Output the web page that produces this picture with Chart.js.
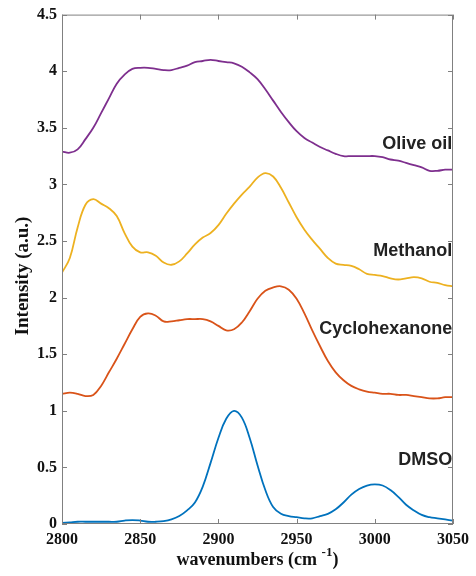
<!DOCTYPE html>
<html>
<head>
<meta charset="utf-8">
<script src="https://cdn.jsdelivr.net/npm/chart.js@4"></script>
<style>
  html, body { margin: 0; padding: 0; background: #fff; }
  #wrap { width: 476px; height: 576px; }
</style>
</head>
<body>
<div id="wrap"><canvas id="spectra"></canvas></div>
<script>
const wavenumbers = [2800, 2805, 2810, 2815, 2820, 2825, 2830, 2835, 2840, 2845, 2850, 2855, 2860, 2865, 2870, 2875, 2880, 2885, 2890, 2895, 2900, 2905, 2910, 2915, 2920, 2925, 2930, 2935, 2940, 2945, 2950, 2955, 2960, 2965, 2970, 2975, 2980, 2985, 2990, 2995, 3000, 3005, 3010, 3015, 3020, 3025, 3030, 3035, 3040, 3045, 3050];

const oliveOil = [3.29, 3.28, 3.31, 3.40, 3.50, 3.63, 3.76, 3.89, 3.97, 4.02, 4.03, 4.03, 4.02, 4.01, 4.01, 4.03, 4.05, 4.08, 4.09, 4.10, 4.09, 4.08, 4.07, 4.04, 3.99, 3.93, 3.84, 3.74, 3.64, 3.55, 3.47, 3.41, 3.37, 3.33, 3.30, 3.27, 3.25, 3.25, 3.25, 3.25, 3.25, 3.24, 3.22, 3.21, 3.19, 3.17, 3.15, 3.12, 3.12, 3.13, 3.13];

const methanol = [2.22, 2.35, 2.62, 2.82, 2.87, 2.83, 2.79, 2.72, 2.57, 2.45, 2.40, 2.40, 2.37, 2.31, 2.29, 2.32, 2.39, 2.47, 2.53, 2.57, 2.64, 2.74, 2.83, 2.91, 2.98, 3.06, 3.10, 3.07, 2.97, 2.84, 2.71, 2.60, 2.51, 2.43, 2.35, 2.30, 2.29, 2.28, 2.25, 2.21, 2.20, 2.19, 2.17, 2.16, 2.17, 2.18, 2.17, 2.14, 2.13, 2.11, 2.10];

const cyclohexanone = [1.15, 1.16, 1.15, 1.13, 1.14, 1.22, 1.34, 1.46, 1.59, 1.72, 1.83, 1.86, 1.84, 1.79, 1.79, 1.80, 1.81, 1.81, 1.81, 1.79, 1.75, 1.71, 1.72, 1.78, 1.88, 1.99, 2.06, 2.09, 2.10, 2.07, 1.99, 1.86, 1.71, 1.57, 1.44, 1.34, 1.27, 1.22, 1.19, 1.17, 1.16, 1.15, 1.15, 1.14, 1.14, 1.13, 1.12, 1.11, 1.11, 1.12, 1.12];

const dmso = [0.01, 0.015, 0.02, 0.02, 0.02, 0.02, 0.02, 0.02, 0.03, 0.035, 0.03, 0.02, 0.02, 0.025, 0.04, 0.07, 0.12, 0.19, 0.33, 0.54, 0.76, 0.93, 1.00, 0.94, 0.76, 0.52, 0.30, 0.15, 0.09, 0.07, 0.06, 0.05, 0.05, 0.07, 0.09, 0.13, 0.19, 0.26, 0.31, 0.34, 0.35, 0.34, 0.30, 0.24, 0.17, 0.12, 0.08, 0.06, 0.05, 0.04, 0.03];

// curve names and where their text sits (data units)
const seriesNames = ['DMSO', 'Cyclohexanone', 'Methanol', 'Olive oil'];
const labelY = [0.565, 1.72, 2.41, 3.36];

const xTicks = [2800, 2850, 2900, 2950, 3000, 3050];
const yTicks = [0, 0.5, 1, 1.5, 2, 2.5, 3, 3.5, 4, 4.5];

const colors = ['#0072BD', '#D95319', '#EDB120', '#7E2F8E'];
const allSeries = [dmso, cyclohexanone, methanol, oliveOil];

function toPoints(ys) {
    return wavenumbers.map((x, i) => ({ x: x, y: ys[i] }));
}

// frame + inward ticks + axis titles + curve labels
const framePlugin = {
    id: 'frame',
    afterDraw(chart) {
        const ctx = chart.ctx;
        const a = chart.chartArea;
        const xs = chart.scales.x, ys = chart.scales.y;
        ctx.save();
        ctx.strokeStyle = '#808080';
        ctx.lineWidth = 1;
        ctx.strokeRect(a.left + 0.5, a.top + 0.5, a.right - a.left - 1, a.bottom - a.top - 1);
        ctx.beginPath();
        xTicks.forEach(v => {
            const px = Math.round(xs.getPixelForValue(v)) + 0.5;
            ctx.moveTo(px, a.bottom); ctx.lineTo(px, a.bottom - 5);
            ctx.moveTo(px, a.top); ctx.lineTo(px, a.top + 5);
        });
        yTicks.forEach(v => {
            const py = Math.round(ys.getPixelForValue(v)) + 0.5;
            ctx.moveTo(a.left, py); ctx.lineTo(a.left + 5, py);
            ctx.moveTo(a.right, py); ctx.lineTo(a.right - 5, py);
        });
        ctx.stroke();

        // curve names
        ctx.fillStyle = '#222';
        ctx.font = 'bold 18px "Liberation Sans", Arial, sans-serif';
        ctx.textAlign = 'right';
        ctx.textBaseline = 'middle';
        seriesNames.forEach((name, i) => {
            ctx.fillText(name, xs.getPixelForValue(3049.5), ys.getPixelForValue(labelY[i]));
        });

        // x title with superscript
        ctx.fillStyle = '#111';
        ctx.textBaseline = 'alphabetic';
        ctx.textAlign = 'left';
        const f = 'bold 18px "Liberation Serif", "Times New Roman", serif';
        const fs = 'bold 13px "Liberation Serif", "Times New Roman", serif';
        ctx.font = f;
        const p1 = 'wavenumbers (cm ', p3 = ')';
        const w1 = ctx.measureText(p1).width, w3 = ctx.measureText(p3).width;
        ctx.font = fs;
        const w2 = ctx.measureText('-1').width;
        const total = w1 + w2 + w3;
        const x0 = (a.left + a.right) / 2 - total / 2;
        const base = 565;
        ctx.font = f;
        ctx.fillText(p1, x0, base);
        ctx.font = fs;
        ctx.fillText('-1', x0 + w1, base - 9);
        ctx.font = f;
        ctx.fillText(p3, x0 + w1 + w2, base);

        // y title
        ctx.font = 'bold 19px "Liberation Serif", "Times New Roman", serif';
        ctx.translate(23, 276);
        ctx.rotate(-Math.PI / 2);
        ctx.textAlign = 'center';
        ctx.textBaseline = 'middle';
        ctx.fillText('Intensity (a.u.)', 0, 0);
        ctx.restore();
    }
};

const tickFont = { family: '"Liberation Serif", "Times New Roman", serif', size: 16, weight: 'bold' };

document.addEventListener('DOMContentLoaded', function() {
    const ctx = document.getElementById('spectra').getContext('2d');
    new Chart(ctx, {
        type: 'line',
        data: {
            datasets: allSeries.map((s, i) => ({
                label: seriesNames[i],
                data: toPoints(s),
                borderColor: colors[i],
                borderWidth: 1.8,
                pointRadius: 0,
                fill: false,
                tension: 0.4
            }))
        },
        options: {
            responsive: true,
            maintainAspectRatio: false,
            animation: false,
            layout: { padding: { top: 14, right: 23, left: 0, bottom: 0 } },
            plugins: {
                legend: { display: false },
                tooltip: { enabled: false }
            },
            scales: {
                x: {
                    type: 'linear',
                    min: 2800,
                    max: 3050,
                    grid: { display: false, drawTicks: false, tickLength: 0 },
                    border: { display: false },
                    afterBuildTicks: s => { s.ticks = xTicks.map(v => ({ value: v })); },
                    afterFit: s => { s.height = 52; },
                    ticks: { color: '#111', font: tickFont, padding: 6, maxRotation: 0,
                             callback: v => String(v) }
                },
                y: {
                    min: 0,
                    max: 4.5,
                    grid: { display: false, drawTicks: false, tickLength: 0 },
                    border: { display: false },
                    afterBuildTicks: s => { s.ticks = yTicks.map(v => ({ value: v })); },
                    afterFit: s => { s.width = 62; },
                    ticks: { color: '#111', font: tickFont, padding: 5,
                             callback: v => String(v) }
                }
            }
        },
        plugins: [framePlugin]
    });
});
</script>
</body>
</html>
